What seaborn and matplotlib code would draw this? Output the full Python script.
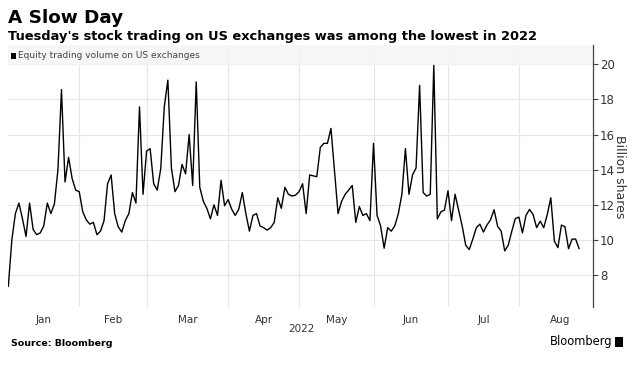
import numpy as np
import pandas as pd
import seaborn as sns
import matplotlib.pyplot as plt
from matplotlib.patches import Rectangle

# daily equity trading volume on US exchanges, billion shares (trading days, 2022)
jan = [7.35, 10.0, 11.5, 12.1, 11.2, 10.2, 12.1, 10.6, 10.3, 10.4,
       10.8, 12.1, 11.5, 12.05, 14.0, 18.56, 13.3, 14.7, 13.5, 12.84]
feb = [12.75, 11.6, 11.14, 10.9, 11.0, 10.3, 10.5, 11.1, 13.2, 13.7,
       11.5, 10.75, 10.45, 11.1, 11.5, 12.7, 12.1, 17.58, 12.6]
mar = [15.06, 15.2, 13.2, 12.84, 14.07, 17.6, 19.1, 14.1, 12.75, 13.1,
       14.3, 13.76, 16.0, 13.1, 19.0, 13.0, 12.2, 11.8, 11.2, 12.0,
       11.4, 13.4, 11.95]
apr = [12.3, 11.75, 11.4, 11.75, 12.7, 11.5, 10.5, 11.4, 11.5, 10.8,
       10.7, 10.56, 10.7, 11.0, 12.4, 11.8, 13.0, 12.6, 12.5, 12.55]
may = [12.75, 13.2, 11.5, 13.7, 13.65, 13.6, 15.27, 15.5, 15.5, 16.35,
       13.9, 11.5, 12.2, 12.6, 12.84, 13.1, 11.0, 11.9, 11.4, 11.5, 11.1]
jun = [15.5, 11.4, 10.8, 9.53, 10.7, 10.5, 10.8, 11.5, 12.6, 15.2,
       12.6, 13.7, 14.1, 18.8, 12.7, 12.5, 12.6, 19.94, 11.2, 11.6, 11.7]
jul = [12.8, 11.1, 12.6, 11.7, 10.8, 9.7, 9.45, 10.05, 10.7, 10.9,
       10.45, 10.85, 11.15, 11.72, 10.78, 10.5, 9.38, 9.7, 10.5, 11.22]
aug = [11.3, 10.4, 11.4, 11.74, 11.45, 10.7, 11.07, 10.7, 11.45, 12.4,
       9.94, 9.56, 10.85, 10.75, 9.5, 10.05, 10.05, 9.5]

months = ["Jan", "Feb", "Mar", "Apr", "May", "Jun", "Jul", "Aug"]
month_trading_days = [20, 19, 23, 20, 21, 21, 20, 23]
y_ticks = [8, 10, 12, 14, 16, 18, 20]

values = jan + feb + mar + apr + may + jun + jul + aug
df = pd.DataFrame({"day": np.arange(len(values)), "volume": values})

starts = np.concatenate([[0], np.cumsum(month_trading_days)[:-1]])
mids = starts + np.array(month_trading_days) / 2

sns.set_theme(style="white")
plt.rcParams["font.family"] = ["DejaVu Sans"]

W, H = 637, 374
fig = plt.figure(figsize=(W / 100, H / 100), dpi=100)
ax = fig.add_axes([8.3 / W, 1 - 306.7 / H, (593 - 8.3) / W, (306.7 - 45) / H])

sns.lineplot(data=df, x="day", y="volume", ax=ax, color="black",
             linewidth=1.0, zorder=3)

ax.set_xlim(0, 164.9)
ax.set_ylim(6.2, 21.1)

# grid
ax.set_yticks(y_ticks)
ax.grid(axis="y", color="#e6e6e6", linewidth=0.8)
ax.set_xticks(starts[1:], minor=True)
ax.grid(axis="x", which="minor", color="#e6e6e6", linewidth=0.8)
ax.set_xticks(mids)
ax.set_xticklabels(months, fontsize=7.5, color="#333333")
ax.tick_params(axis="x", which="both", length=0, pad=6)

ax.yaxis.tick_right()
ax.tick_params(axis="y", which="major", length=3.5, width=0.8, color="#444444",
               labelsize=8.5, labelcolor="#333333", pad=1.5, right=True, left=False)
ax.set_xlabel("")
ax.set_ylabel("")

for s in ["top", "left", "bottom"]:
    ax.spines[s].set_visible(False)
ax.spines["right"].set_color("#444444")
ax.spines["right"].set_linewidth(0.9)

# legend band
ax.add_patch(Rectangle((0, 1 - 20 / 261.7), 1, 20 / 261.7, transform=ax.transAxes,
                       facecolor="#f5f5f5", edgecolor="none", zorder=2, alpha=0.9))
fig.patches.append(Rectangle((10.5 / W, 1 - 58.5 / H), 5.5 / W, 5.5 / H,
                             transform=fig.transFigure, facecolor="black",
                             edgecolor="none"))
fig.text(18 / W, 1 - 55.5 / H, "Equity trading volume on US exchanges",
         fontsize=6.5, color="#444444", va="center")

fig.text(620 / W, 1 - 177 / H, "Billion shares", rotation=270, fontsize=9,
         color="#333333", ha="center", va="center")
fig.text(301 / W, 1 - 329 / H, "2022", fontsize=7.5, color="#333333",
         ha="center", va="center")

fig.text(8 / W, 1 - 23 / H, "A Slow Day", fontsize=13.2, fontweight="bold",
         color="black", va="baseline")
fig.text(8 / W, 1 - 40 / H, "Tuesday's stock trading on US exchanges was among the lowest in 2022",
         fontsize=9.35, fontweight="bold", color="black", va="baseline")
fig.text(11 / W, 1 - 343 / H, "Source: Bloomberg", fontsize=6.8, fontweight="bold",
         color="black", va="center")
fig.text(612 / W, 1 - 342 / H, "Bloomberg", fontsize=8.3, color="black",
         ha="right", va="center")
fig.patches.append(Rectangle((615 / W, 1 - 347 / H), 8 / W, 10 / H,
                             transform=fig.transFigure, facecolor="black",
                             edgecolor="none"))

fig.savefig("out.png", dpi=100)
